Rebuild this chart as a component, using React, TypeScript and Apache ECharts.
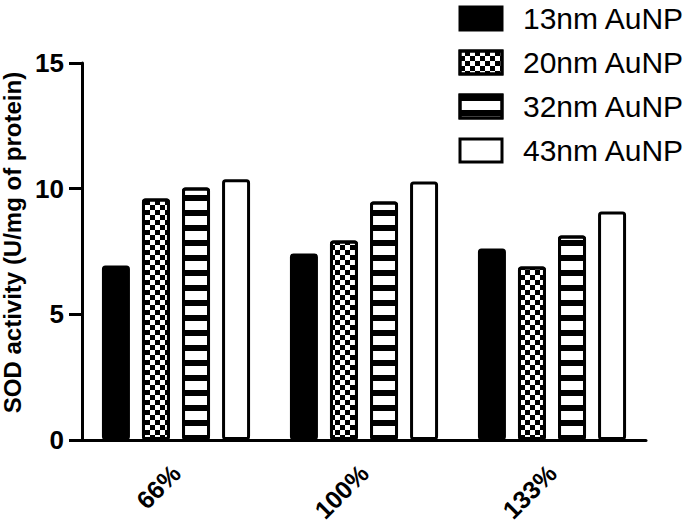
import React, { useEffect, useRef } from 'react';
import * as echarts from 'echarts';

const categories = ['66%', '100%', '133%'];
const seriesNames = ['13nm AuNP', '20nm AuNP', '32nm AuNP', '43nm AuNP'];
const au13 = [6.94, 7.42, 7.62];
const au20 = [9.61, 7.94, 6.9];
const au32 = [10.05, 9.49, 8.14];
const au43 = [10.37, 10.29, 9.09];
const yMin = 0;
const yMax = 15;
const yInterval = 5;
const yName = 'SOD activity (U/mg of protein)';

const FONT = 'Liberation Sans, Arial, sans-serif';

export default function App() {
  const ref = useRef<HTMLDivElement>(null);
  useEffect(() => {
    const chart = echarts.init(ref.current!, null, { renderer: 'svg' });
    const checker = {
      symbol: 'rect',
      symbolSize: 1,
      symbolKeepAspect: false,
      color: '#000',
      dashArrayX: [[5, 5], [0, 5, 5, 0]],
      dashArrayY: [5, 0],
      rotation: 0,
    };
    const stripes = {
      symbol: 'rect',
      symbolSize: 1,
      symbolKeepAspect: false,
      color: '#000',
      dashArrayX: [[40, 0]],
      dashArrayY: [6, 9],
      rotation: 0,
    };
    const baseItem = { borderColor: '#000', borderWidth: 3, borderRadius: 2 };
    const mk = (name: string, data: number[], extra: any) => ({
      type: 'bar',
      name,
      data,
      barWidth: 28,
      barGap: '43%',
      itemStyle: { ...baseItem, ...extra },
      emphasis: { disabled: true },
    });
    chart.setOption({
      animation: false,
      backgroundColor: '#fff',
      legend: {
        orient: 'vertical',
        left: 453.5,
        top: -1.5,
        itemWidth: 42,
        itemHeight: 23,
        itemGap: 14,
        icon: 'rect',
        selectedMode: false,
        data: seriesNames,
        itemStyle: { borderWidth: 3, borderColor: '#000' },
        textStyle: { fontSize: 30, fontFamily: FONT, color: '#000', padding: [0, 0, 0, 16] },
      },
      grid: {
        left: 82,
        width: 564,
        top: 63,
        height: 377,
        containLabel: false,
        outerBoundsMode: 'none',
      },
      xAxis: {
        type: 'category',
        data: categories,
        axisLine: { lineStyle: { color: '#000', width: 3 } },
        axisTick: { alignWithLabel: true, length: 12, lineStyle: { color: '#000', width: 3 } },
        axisLabel: {
          rotate: 45,
          fontSize: 25,
          fontWeight: 'bold',
          fontFamily: FONT,
          color: '#000',
          margin: 29,
        },
      },
      yAxis: {
        type: 'value',
        min: yMin,
        max: yMax,
        interval: yInterval,
        name: yName,
        nameLocation: 'middle',
        nameGap: 51,
        nameTextStyle: {
          fontSize: 24,
          fontWeight: 'bold',
          fontFamily: FONT,
          color: '#000',
          padding: [0, 0, 0, 18],
        },
        axisLine: { show: true, lineStyle: { color: '#000', width: 3 } },
        axisTick: { show: true, length: 13, lineStyle: { color: '#000', width: 3 } },
        splitLine: { show: false },
        axisLabel: { fontSize: 26, fontWeight: 'bold', fontFamily: FONT, color: '#000', margin: 18 },
      },
      series: [
        mk(seriesNames[0], au13, { color: '#000' }),
        mk(seriesNames[1], au20, { color: '#fff', decal: checker }),
        mk(seriesNames[2], au32, { color: '#fff', decal: stripes }),
        mk(seriesNames[3], au43, { color: '#fff' }),
      ],
    });
    return () => chart.dispose();
  }, []);
  return <div ref={ref} style={{ position: 'fixed', left: 0, top: 0, width: 685, height: 523 }} />;
}
